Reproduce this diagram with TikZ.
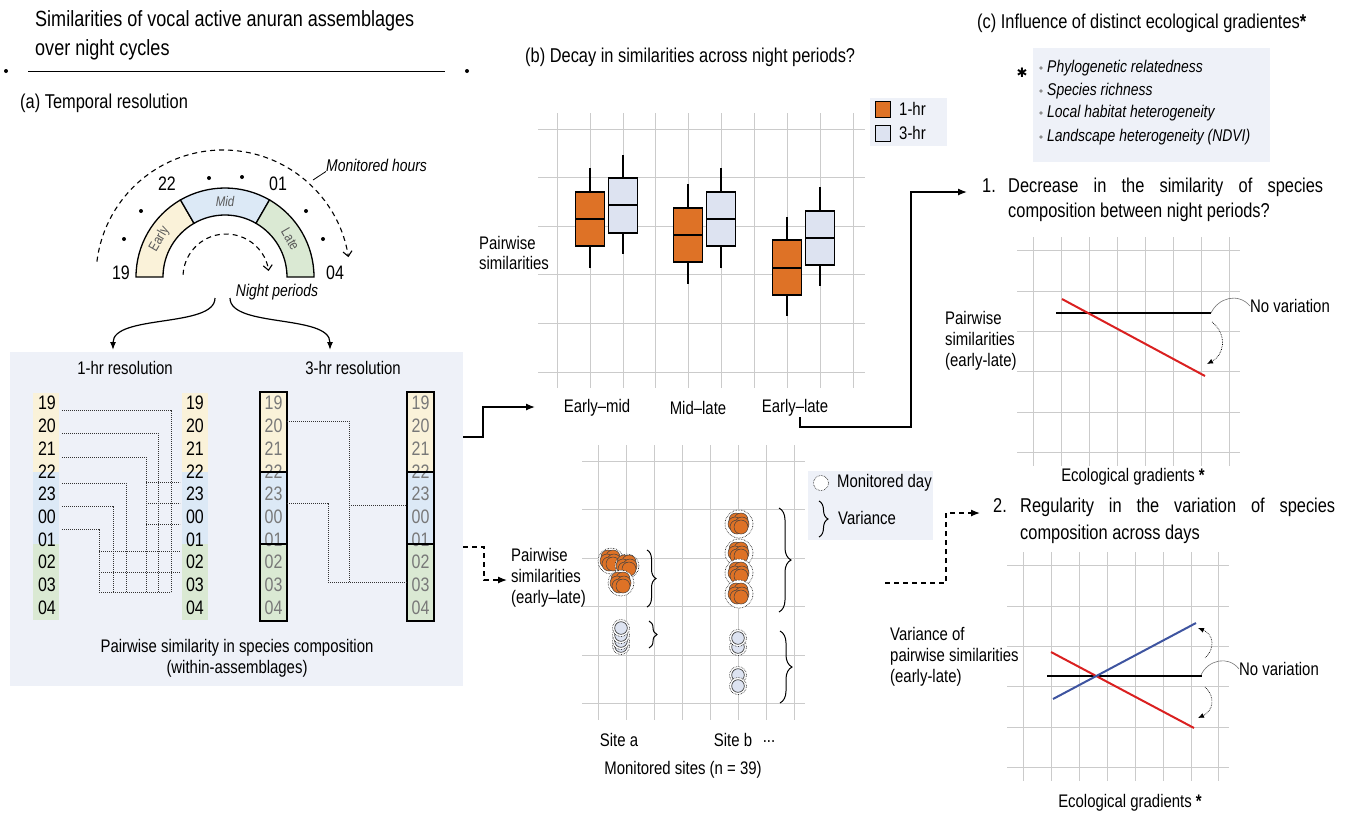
\documentclass[tikz,border=0pt]{standalone}
\usepackage{fontspec}
\setmainfont[FakeStretch=0.82]{Liberation Sans}
\newfontfamily\dejavu{DejaVu Sans}
\usetikzlibrary{arrows.meta,decorations.pathreplacing,calc}
\definecolor{orng}{RGB}{222,114,38}
\definecolor{bluefill}{RGB}{221,227,241}
\definecolor{yel}{RGB}{250,242,217}
\definecolor{blu}{RGB}{220,233,246}
\definecolor{grn}{RGB}{218,233,211}
\definecolor{panelbg}{RGB}{238,241,248}
\definecolor{gridc}{RGB}{203,203,203}
\definecolor{redl}{RGB}{218,32,32}
\definecolor{bluel}{RGB}{62,84,160}
\definecolor{dgray}{RGB}{120,120,120}
\newcommand\bplot[7]{%
  \draw[line width=1.4pt] (#1,#3) -- (#1,#4);
  \draw[line width=1.4pt] (#1,#6) -- (#1,#7);
  \filldraw[fill=#2,line width=1.4pt] (#1-14.5,#4) rectangle (#1+14.5,#6);
  \draw[line width=1.4pt] (#1-14.5,#5) -- (#1+14.5,#5);}
\newcommand\orclump[3]{%
  \fill[white] (#1,#2) circle[radius=#3pt];
  \draw[densely dotted,line width=0.6pt] (#1,#2) circle[radius=#3pt];
  \foreach \dx/\dy in {-3/-4,2/-4,-4/0,3/0,-2/3,2/3}{
    \filldraw[fill=orng,draw=black!75,line width=0.5pt] (#1+\dx,#2+\dy) circle[radius=7pt];}}
\newcommand\bdisc[2]{%
  \fill[white] (#1,#2) circle[radius=8.5pt];
  \draw[densely dotted,line width=0.6pt] (#1,#2) circle[radius=8.5pt];
  \filldraw[fill=bluefill,draw=black!75,line width=0.7pt] (#1,#2) circle[radius=6.3pt];}
\begin{document}
\begin{tikzpicture}[x=1pt,y=-1pt,
  lab/.style={font=\fontsize{18.2}{20.8}\selectfont,inner sep=0pt},
  itlab/.style={font=\fontsize{17}{22.5}\selectfont\itshape,inner sep=0pt},
  hdr/.style={font=\fontsize{20}{24}\selectfont,inner sep=0pt},
  ttl/.style={font=\fontsize{22}{29}\selectfont,inner sep=0pt},
  dig/.style={font=\fontsize{19.5}{22}\selectfont,inner sep=0pt},
  arcl/.style={font=\fontsize{14}{16}\selectfont,text=black!65,inner sep=0pt},
  grid/.style={draw=gridc,line width=1pt},
  conn/.style={line width=0.7pt,black!80,dash pattern=on 1.3pt off 0.7pt},
  arr/.style={line width=1.3pt,-{Latex[length=9pt,width=7pt]}},
  darr/.style={line width=1.3pt,dash pattern=on 5pt off 4pt,-{Latex[length=9pt,width=7pt]}},
  brc/.style={decorate,line width=1pt},
  dotarr/.style={line width=0.7pt,densely dotted,-{Latex[length=6pt,width=5pt]}},
  trend/.style={line width=2pt}]
\useasboundingbox (0,0) rectangle (1352,815);

% ---------- title ----------
\node[ttl,anchor=base west] (title1) at (35,26) {Similarities of vocal active anuran assemblages};
\node[ttl,anchor=base west] (title2) at (35,55) {over night cycles};
\draw[line width=1pt] (28,71) -- (445,71);
\fill (6,71) circle[radius=2pt];
\fill (467,71) circle[radius=2pt];

% ---------- (a) ----------
\node[hdr,anchor=base west] (ha) at (20,108) {(a) Temporal resolution};
\coordinate (C) at (225,277);
\filldraw[fill=yel,line width=1.3pt] ($(C)+(180:89pt)$) arc[start angle=180,end angle=120,radius=89pt] -- ($(C)+(120:62pt)$) arc[start angle=120,end angle=180,radius=62pt] -- cycle;
\filldraw[fill=blu,line width=1.3pt] ($(C)+(120:89pt)$) arc[start angle=120,end angle=60,radius=89pt] -- ($(C)+(60:62pt)$) arc[start angle=60,end angle=120,radius=62pt] -- cycle;
\filldraw[fill=grn,line width=1.3pt] ($(C)+(60:89pt)$) arc[start angle=60,end angle=0,radius=89pt] -- ($(C)+(0:62pt)$) arc[start angle=0,end angle=60,radius=62pt] -- cycle;
\node[arcl,rotate=60] (early) at ($(C)+(150:75.5pt)$) {Early};
\node[arcl,font=\fontsize{14}{16}\selectfont\itshape] (mid) at ($(C)+(90:75.5pt)$) {Mid};
\node[arcl,rotate=-60] (late) at ($(C)+(30:75.5pt)$) {Late};
\node[dig] (h19) at (121,273) {19};
\node[dig] (h22) at (167,184) {22};
\node[dig] (h01) at (278,184) {01};
\node[dig] (h04) at (335,273) {04};
\foreach \p in {(124,239),(141,211),(209,178),(242,177),(306,211),(323,239)}
  \fill \p circle[radius=2pt];
\coordinate (C2) at (223,277);
\draw[line width=1.1pt,dash pattern=on 5pt off 4pt,-{Straight Barb[length=5pt,width=9pt]}]
  ($(C2)+(173:127pt)$) arc[start angle=173,end angle=9,radius=127pt];
\coordinate (C3) at (226,277);
\draw[line width=1.1pt,dash pattern=on 5pt off 4pt,-{Straight Barb[length=5pt,width=9pt]}]
  ($(C3)+(177:43pt)$) arc[start angle=177,end angle=8,radius=43pt];
\node[itlab,anchor=west] (mh) at (326,165) {Monitored hours};
\coordinate (mh1) at (313,180);
\draw[line width=0.8pt] (mh1) -- (mh.south west);
\node[itlab] (np) at (277,292) {Night periods};

% panel box
\fill[panelbg] (10,352) rectangle (463,686);
\coordinate (s1) at (215,298);
\coordinate (s2) at (230,298);
\coordinate (e1) at (113,350);
\coordinate (e2) at (330,350);
\draw[line width=1.2pt,-{Latex[length=8pt,width=6pt]}] (s1) .. controls (215,328) and (113,314) .. (e1);
\draw[line width=1.2pt,-{Latex[length=8pt,width=6pt]}] (s2) .. controls (230,328) and (330,314) .. (e2);
\node[lab] (r1) at (125,368) {1-hr resolution};
\node[lab] (r3) at (353,368) {3-hr resolution};

% 1-hr strips
\foreach \x in {33,182}{
  \fill[yel] (\x,393) rectangle (\x+26,472);
  \fill[blu] (\x,472) rectangle (\x+26,544);
  \fill[grn] (\x,544) rectangle (\x+26,620);}
\foreach \t [count=\i from 0] in {19,20,21,22,23,00,01,02,03,04}{
  \node[dig] (a\i) at (47,403+22.75*\i) {\t};
  \node[dig] (b\i) at (195,403+22.75*\i) {\t};}
% 1-hr connectors
\draw[conn] (62,410) -- (171,410) -- (171,592);
\draw[conn] (62,433) -- (158,433) -- (158,592);
\draw[conn] (62,457) -- (146,457) -- (146,592);
\draw[conn] (62,483) -- (126,483) -- (126,592);
\draw[conn] (62,506) -- (113,506) -- (113,592);
\draw[conn] (62,529) -- (99,529) -- (99,592);
\draw[conn] (146,482) -- (180,482);
\draw[conn] (146,503) -- (180,503);
\draw[conn] (146,524) -- (180,524);
\draw[conn] (99,551) -- (180,551);
\draw[conn] (99,572) -- (180,572);
\draw[conn] (99,592) -- (171,592);

% 3-hr strips
\foreach \x in {260,407}{
  \fill[yel] (\x,392) rectangle (\x+27,472);
  \fill[blu] (\x,472) rectangle (\x+27,544);
  \fill[grn] (\x,544) rectangle (\x+27,621);}
\foreach \t [count=\i from 0] in {19,20,21,22,23,00,01,02,03,04}{
  \node[dig,text=dgray] (c\i) at (273.5,403+22.75*\i) {\t};
  \node[dig,text=dgray] (d\i) at (420.5,403+22.75*\i) {\t};}
\foreach \x in {260,407}{
  \draw[line width=1.3pt] (\x,392) rectangle (\x+27,472);
  \draw[line width=1.3pt] (\x,472) rectangle (\x+27,544);
  \draw[line width=1.3pt] (\x,544) rectangle (\x+27,621);}
\draw[conn] (287,421) -- (349,421) -- (349,582);
\draw[conn] (349,505) -- (407,505);
\draw[conn] (287,503) -- (328,503) -- (328,582) -- (407,582);
\node[lab,align=center] (pws) at (237,658) {Pairwise similarity in species composition\\(within-assemblages)};

% ---------- (b) top ----------
\node[hdr,anchor=base west] (hb) at (525,62) {(b) Decay in similarities across night periods?};
\foreach \y in {129,177,226,274,323,372} \draw[grid] (538,\y) -- (865,\y);
\foreach \x in {557,590,623,655,688,721,754,787,820,853} \draw[grid] (\x,113) -- (\x,388);
\bplot{590}{orng}{168}{192}{219}{246}{268}
\bplot{623}{bluefill}{155}{178}{205}{233}{254}
\bplot{688}{orng}{184}{208}{235}{262}{284}
\bplot{721}{bluefill}{168}{192}{219}{246}{268}
\bplot{787}{orng}{217}{240}{268}{295}{316}
\bplot{820}{bluefill}{187}{211}{238}{265}{286}
\fill[panelbg] (870,98) rectangle (947,146);
\filldraw[fill=orng,line width=1pt] (875,101) rectangle (890,117);
\filldraw[fill=bluefill,line width=1pt] (875,125) rectangle (890,141);
\node[lab,anchor=west] (lg1) at (899,109) {1-hr};
\node[lab,anchor=west] (lg3) at (899,133) {3-hr};
\node[lab,anchor=west,align=left] (pwb) at (479,253) {Pairwise\\similarities};
\node[lab] (xem) at (597,408) {Early–mid};
\node[lab] (xml) at (698,408) {Mid–late};
\node[lab] (xel) at (795,408) {Early–late};

% arrows a->b, b->c
\coordinate (a1) at (463,437);
\coordinate (a2) at (535,407);
\draw[arr] (a1) -- (483,437) -- (483,407) -- (a2);
\coordinate (b1) at (800,417);
\coordinate (b2) at (967,192);
\draw[arr] (b1) -- (800,427) -- (911,427) -- (911,192) -- (b2);

% ---------- (b) bottom ----------
\foreach \y in {461,509,558,606,655,703} \draw[grid] (582,\y) -- (805,\y);
\foreach \x in {598,626,654,682,710,738,766,794} \draw[grid] (\x,445) -- (\x,720);
\orclump{611}{561}{13}
\orclump{627}{566}{12}
\orclump{621}{583}{13}
\orclump{739}{524}{14}
\orclump{739}{553}{14}
\orclump{739}{573}{14}
\orclump{739}{594}{14}
\bdisc{621}{646}\bdisc{621}{641}\bdisc{621}{635}\bdisc{621}{628}
\bdisc{738}{647}\bdisc{738}{638}
\bdisc{738}{675}\bdisc{738}{686}
\draw[brc,decoration={brace,amplitude=9pt}] (647,550) -- (647,607);
\draw[brc,decoration={brace,amplitude=8pt}] (649,621) -- (649,648);
\draw[brc,decoration={brace,amplitude=12pt}] (779,508) -- (779,612);
\draw[brc,decoration={brace,amplitude=12pt}] (780,631) -- (780,703);
\fill[panelbg] (808,471) rectangle (933,540);
\filldraw[fill=white,densely dotted,line width=0.6pt] (821,483) circle[radius=7.5pt];
\node[lab,anchor=west] (lmd) at (837,483) {Monitored day};
\draw[brc,decoration={brace,amplitude=9pt}] (819,501) -- (819,537);
\node[lab,anchor=west] (lvar) at (838,518) {Variance};
\node[lab,anchor=west,align=left] (pwl) at (511,578) {Pairwise\\similarities\\(early–late)};
\coordinate (d1) at (463,547);
\coordinate (d2) at (507,580);
\draw[darr] (d1) -- (484,547) -- (484,580) -- (d2);
\node[lab] (sa) at (619,740) {Site a};
\node[lab] (sb) at (733,740) {Site b};
\node[lab] (sdots) at (769,742) {...};
\node[lab] (ms) at (683,770) {Monitored sites (n = 39)};
\coordinate (f1) at (885,583);
\coordinate (f2) at (980,513);
\draw[darr] (f1) -- (946,583) -- (946,513) -- (f2);

% ---------- (c) ----------
\node[hdr,anchor=base west] (hc) at (977,28) {(c) Influence of distinct ecological gradientes\textbf{*}};
\fill[panelbg] (1033,48) rectangle (1270,162);
\node[inner sep=0pt,font=\fontsize{13}{13}\selectfont\dejavu] (star) at (1022,73) {✱};
\foreach \t/\y [count=\i] in {Phylogenetic relatedness/68,Species richness/91,Local habitat heterogeneity/113,Landscape heterogeneity (NDVI)/137}{
  \fill[black!45] (1041,\y) circle[radius=1.8pt];
  \node[itlab,anchor=west] (li\i) at (1047,\y) {\t};}

% c1
\node[hdr,anchor=base west] (n1) at (982,192) {1.};
\node[hdr,anchor=base west] (q1a) at (1008,192) {\makebox[315pt][s]{Decrease in the similarity of species}};
\node[hdr,anchor=base west] (q1b) at (1008,217) {composition between night periods?};
\foreach \y in {250,291,331,371,412,452} \draw[grid] (1017,\y) -- (1240,\y);
\foreach \x in {1033,1061,1089,1117,1145,1173,1201,1229} \draw[grid] (\x,237) -- (\x,466);
\draw[trend] (1056,313) -- (1211,313);
\draw[trend,redl] (1062,299) -- (1205,376);
\node[lab,anchor=west] (nv1) at (1250,306) {No variation};
\draw[line width=0.6pt,black!55] (1211,313) .. controls (1218,298) and (1238,292) .. (nv1.west);
\draw[dotarr] (1212,322) .. controls (1228,335) and (1224,355) .. (1207,364);
\node[lab,anchor=west,align=left] (pw1) at (945,341) {Pairwise\\similarities\\(early-late)};
\node[lab] (eg1) at (1133,477) {Ecological gradients \textbf{*}};

% c2
\node[hdr,anchor=base west] (n2) at (993,512) {2.};
\node[hdr,anchor=base west] (q2a) at (1020,512) {\makebox[315pt][s]{Regularity in the variation of species}};
\node[hdr,anchor=base west] (q2b) at (1020,539) {composition across days};
\foreach \y in {565,606,646,686,727,767} \draw[grid] (1007,\y) -- (1229,\y);
\foreach \x in {1023,1051,1079,1107,1135,1163,1191,1218} \draw[grid] (\x,552) -- (\x,781);
\draw[trend] (1047,676) -- (1202,676);
\draw[trend,redl] (1051,652) -- (1194,728);
\draw[trend,bluel] (1053,699) -- (1196,623);
\node[lab,anchor=west] (nv2) at (1239,669) {No variation};
\draw[line width=0.6pt,black!55] (1201,675) .. controls (1208,660) and (1228,655) .. (nv2.west);
\draw[dotarr] (1205,658) .. controls (1216,648) and (1213,634) .. (1198,628);
\draw[dotarr] (1205,687) .. controls (1216,697) and (1213,711) .. (1198,718);
\node[lab,anchor=west,align=left] (pw2) at (890,657) {Variance of\\pairwise similarities\\(early-late)};
\node[lab] (eg2) at (1130,803) {Ecological gradients \textbf{*}};
\end{tikzpicture}
\end{document}
